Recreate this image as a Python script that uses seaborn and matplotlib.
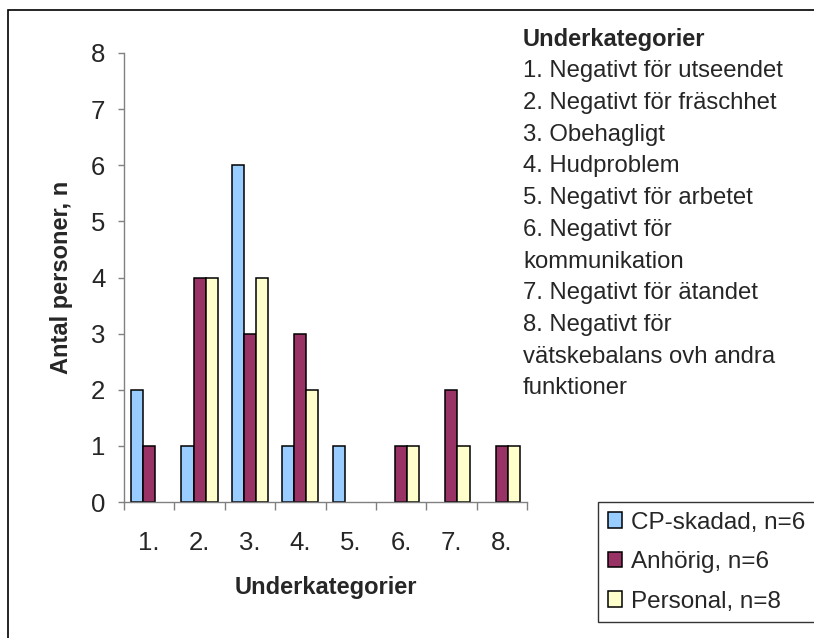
import numpy as np
import pandas as pd
import matplotlib
matplotlib.use('Agg')
import matplotlib.pyplot as plt
from matplotlib.patches import Patch, Rectangle
import seaborn as sns

# data
categories = ['1.', '2.', '3.', '4.', '5.', '6.', '7.', '8.']
series = ['CP-skadad, n=6', 'Anhörig, n=6', 'Personal, n=8']
cp_skadad = [2, 1, 6, 1, 1, 0, 0, 0]
anhorig = [1, 4, 3, 3, 0, 1, 2, 1]
personal = [0, 4, 4, 2, 0, 1, 1, 1]
colors = ['#99CCFF', '#993366', '#FFFFCC']

info_title = 'Underkategorier'
info_lines = ['1. Negativt för utseendet',
              '2. Negativt för fräschhet',
              '3. Obehagligt',
              '4. Hudproblem',
              '5. Negativt för arbetet',
              '6. Negativt för',
              'kommunikation',
              '7. Negativt för ätandet',
              '8. Negativt för',
              'vätskebalans ovh andra',
              'funktioner']

df = pd.DataFrame({
    'kategori': categories * 3,
    'serie': np.repeat(series, len(categories)),
    'antal': cp_skadad + anhorig + personal,
})
df = df[df.antal > 0]  # zero bars are not drawn in the original

sns.set_style('white')
plt.rcParams['font.family'] = ['Liberation Sans', 'DejaVu Sans']

W, H = 814, 638
fig = plt.figure(figsize=(W / 100, H / 100), dpi=100)
ax = fig.add_axes([124 / W, 1 - 502 / H, (527 - 124) / W, (502 - 53) / H])

sns.barplot(data=df, x='kategori', y='antal', hue='serie', order=categories,
            hue_order=series, palette=colors, saturation=1, width=0.72, gap=0,
            edgecolor='black', linewidth=1.1, legend=False, ax=ax)

ax.set_xlim(-0.5, len(categories) - 0.5)
ax.set_ylim(0, 8)
ax.set_yticks(range(0, 9))
ax.set_xticks(range(len(categories)))
ax.set_xticks(np.arange(-0.5, len(categories)), minor=True)
ax.set_xticklabels(categories)
ax.tick_params(axis='x', which='major', length=0, pad=21, labelsize=18.5)
ax.tick_params(axis='x', which='minor', length=6, width=1, color='#808080', direction='out', bottom=True)
ax.tick_params(axis='y', length=4.5, width=1, color='#808080', direction='out', left=True, pad=9, labelsize=18.5)

for s in ['top', 'right']:
    ax.spines[s].set_visible(False)
for s in ['left', 'bottom']:
    ax.spines[s].set_color('#808080')
    ax.spines[s].set_linewidth(1)

ax.set_xlabel('Underkategorier', fontsize=17, fontweight='bold', labelpad=15)
ax.set_ylabel('Antal personer, n', fontsize=17, fontweight='bold', labelpad=13)

# category descriptions on the right
fig.text(523 / W, 1 - 45.7 / H, info_title, fontsize=17, fontweight='bold', va='baseline')
for i, line in enumerate(info_lines):
    fig.text(523 / W, 1 - (77.3 + i * 31.7) / H, line, fontsize=17.2, va='baseline')

# legend
handles = [Patch(facecolor=c, edgecolor='black', linewidth=1.1) for c in colors]
leg = fig.legend(handles, series, loc='upper left',
                 bbox_to_anchor=(598 / W, 1 - 502 / H, 0.4, 0.0), mode='expand',
                 fontsize=17.5, frameon=True, fancybox=False, borderpad=0.4,
                 handlelength=0.6, handleheight=0.6, handletextpad=0.35,
                 labelspacing=0.72, borderaxespad=0)
leg.get_frame().set_edgecolor('black')
leg.get_frame().set_linewidth(1)

# outer chart frame
fig.patches.append(Rectangle((8 / W, -0.1), 1.2, 1 - 10 / H + 0.1, transform=fig.transFigure,
                             fill=False, edgecolor='black', linewidth=1.2, clip_on=False))

fig.savefig('out.png', dpi=100)
